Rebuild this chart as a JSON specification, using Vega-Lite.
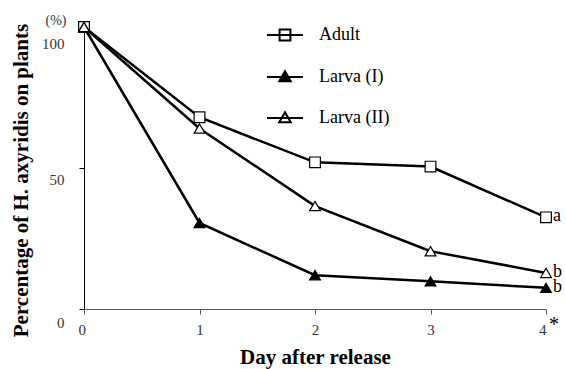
{
  "$schema": "https://vega.github.io/schema/vega-lite/v6.json",
  "width": 462,
  "height": 282,
  "autosize": "none",
  "padding": {"left": 84, "top": 27, "right": 20, "bottom": 60},
  "background": "white",
  "config": {"view": {"stroke": null}, "font": "Liberation Serif", "legend": {"labelFont": "Liberation Serif"}},
  "datasets": {
    "series": [
      {"series": "Adult", "day": 0, "pct": 100, "sig": "a"},
      {"series": "Adult", "day": 1, "pct": 68, "sig": "a"},
      {"series": "Adult", "day": 2, "pct": 52, "sig": "a"},
      {"series": "Adult", "day": 3, "pct": 50.5, "sig": "a"},
      {"series": "Adult", "day": 4, "pct": 32.5, "sig": "a"},
      {"series": "Larva (I)", "day": 0, "pct": 100, "sig": "b"},
      {"series": "Larva (I)", "day": 1, "pct": 30.5, "sig": "b"},
      {"series": "Larva (I)", "day": 2, "pct": 12, "sig": "b"},
      {"series": "Larva (I)", "day": 3, "pct": 9.8, "sig": "b"},
      {"series": "Larva (I)", "day": 4, "pct": 7.5, "sig": "b"},
      {"series": "Larva (II)", "day": 0, "pct": 100, "sig": "b"},
      {"series": "Larva (II)", "day": 1, "pct": 64, "sig": "b"},
      {"series": "Larva (II)", "day": 2, "pct": 36.5, "sig": "b"},
      {"series": "Larva (II)", "day": 3, "pct": 20.5, "sig": "b"},
      {"series": "Larva (II)", "day": 4, "pct": 12.8, "sig": "b"}
    ],
    "unit": [{"day": 0, "pct": 100, "note": "(%)"}],
    "star": [{"day": 4, "pct": 0, "note": "*"}]
  },
  "encoding": {
    "x": {
      "field": "day", "type": "quantitative",
      "scale": {"domain": [0, 4], "nice": false, "zero": false},
      "axis": {
        "values": [0, 1, 2, 3, 4], "format": "d", "grid": false,
        "tickSize": 5, "tickColor": "#555", "domainColor": "#555",
        "labelFont": "Liberation Serif", "labelFontSize": 15, "labelColor": "#333",
        "labelPadding": 8,
        "labelOffset": {"condition": {"test": "datum.value == 0", "value": -6}, "value": 0},
        "title": "Day after release", "titleFont": "Liberation Serif",
        "titleFontSize": 21, "titleFontWeight": "bold", "titleColor": "black",
        "titleY": 54, "titleBaseline": "alphabetic"
      }
    },
    "y": {
      "field": "pct", "type": "quantitative",
      "scale": {"domain": [0, 100], "nice": false},
      "axis": {
        "values": [0, 50, 100], "grid": false,
        "tickSize": 5, "tickColor": "black", "domainColor": "black",
        "labelFont": "Liberation Serif", "labelFontSize": 15, "labelColor": "#333",
        "labelPadding": 15,
        "labelOffset": {"condition": [{"test": "datum.value == 100", "value": 16}, {"test": "datum.value == 50", "value": 11}], "value": 13},
        "title": "Percentage of H. axyridis on plants", "titleFont": "Liberation Serif",
        "titleFontSize": 21, "titleFontWeight": "bold", "titleColor": "black",
        "titleX": -57, "titleY": 153, "titleBaseline": "alphabetic", "titleAnchor": "middle"
      }
    }
  },
  "layer": [
    {
      "data": {"name": "series"},
      "mark": {"type": "line", "color": "black", "strokeWidth": 2.5},
      "encoding": {"detail": {"field": "series"}}
    },
    {
      "data": {"name": "series"},
      "mark": {"type": "point", "filled": true, "stroke": "black", "strokeWidth": 1.2, "opacity": 1, "size": 115},
      "encoding": {
        "shape": {
          "field": "series", "type": "nominal",
          "scale": {"domain": ["Adult", "Larva (I)", "Larva (II)"], "range": ["square", "triangle-up", "triangle-up"]},
          "legend": null
        },
        "fill": {
          "field": "series", "type": "nominal",
          "scale": {"domain": ["Adult", "Larva (I)", "Larva (II)"], "range": ["white", "black", "white"]},
          "legend": null
        }
      }
    },
    {
      "data": {"name": "series"},
      "transform": [{"filter": "datum.day > 100"}],
      "mark": {"type": "point", "filled": true, "strokeWidth": 2, "opacity": 1},
      "encoding": {
        "shape": {
          "field": "series", "type": "nominal",
          "scale": {"domain": ["Adult", "Larva (I)", "Larva (II)"], "range": ["M-1,0H1M-0.3,-0.3H0.3V0.3H-0.3Z", "M-1,0H1M0,-0.32L0.32,0.24H-0.32Z", "M-1,0H1M0,-0.32L0.32,0.24H-0.32Z"]},
          "legend": {
            "orient": "none", "legendX": 182, "legendY": -11, "title": null,
            "symbolSize": 1296, "symbolStrokeWidth": 2, "symbolOpacity": 1,
            "labelFont": "Liberation Serif", "labelFontSize": 18,
            "labelColor": "black", "labelOffset": 15, "rowPadding": 13
          }
        },
        "fill": {
          "field": "series", "type": "nominal",
          "scale": {"domain": ["Adult", "Larva (I)", "Larva (II)"], "range": ["white", "black", "white"]},
          "legend": {
            "orient": "none", "legendX": 182, "legendY": -11, "title": null,
            "symbolSize": 1296, "symbolStrokeWidth": 2, "symbolOpacity": 1,
            "labelFont": "Liberation Serif", "labelFontSize": 18,
            "labelColor": "black", "labelOffset": 15, "rowPadding": 13
          }
        },
        "stroke": {
          "field": "series", "type": "nominal",
          "scale": {"domain": ["Adult", "Larva (I)", "Larva (II)"], "range": ["black", "black", "black"]},
          "legend": {
            "orient": "none", "legendX": 182, "legendY": -11, "title": null,
            "symbolSize": 1296, "symbolStrokeWidth": 2, "symbolOpacity": 1,
            "labelFont": "Liberation Serif", "labelFontSize": 18,
            "labelColor": "black", "labelOffset": 15, "rowPadding": 13
          }
        }
      }
    },
    {
      "data": {"name": "series"},
      "transform": [{"filter": "datum.day == 4"}],
      "mark": {"type": "text", "align": "left", "baseline": "middle", "dx": 7, "dy": -1, "fontSize": 18, "font": "Liberation Serif", "color": "black"},
      "encoding": {"text": {"field": "sig"}}
    },
    {
      "data": {"name": "unit"},
      "mark": {"type": "text", "align": "center", "baseline": "middle", "dx": -28, "dy": -6, "fontSize": 14, "font": "Liberation Serif", "color": "#333"},
      "encoding": {"text": {"field": "note"}}
    },
    {
      "data": {"name": "star"},
      "mark": {"type": "text", "align": "left", "baseline": "middle", "dx": 3, "dy": 16, "fontSize": 20, "font": "Liberation Serif", "color": "black"},
      "encoding": {"text": {"field": "note"}}
    }
  ],
  "resolve": {"scale": {"shape": "independent", "fill": "independent", "stroke": "independent"}}
}
